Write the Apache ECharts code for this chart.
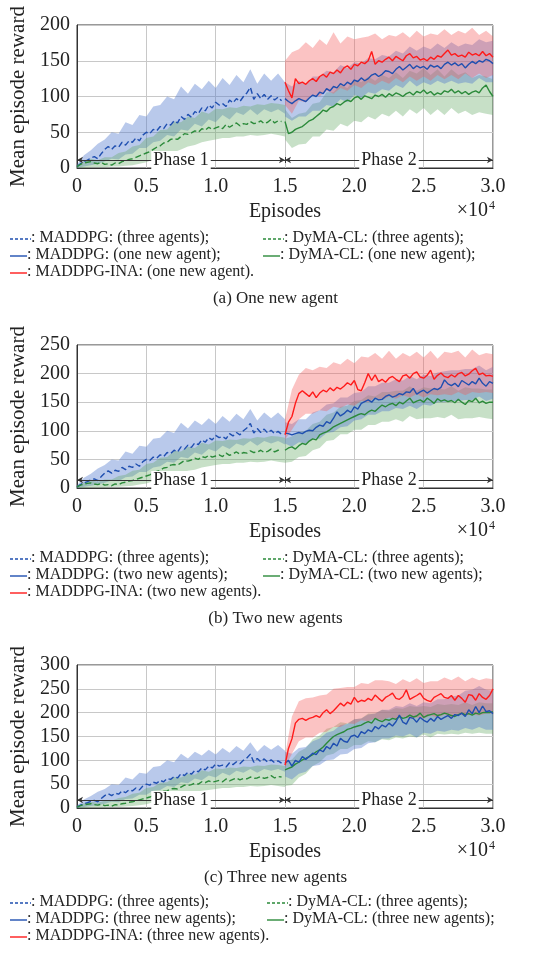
<!DOCTYPE html>
<html><head><meta charset="utf-8">
<script src="https://cdn.jsdelivr.net/npm/echarts@6/dist/echarts.min.js"></script>
<style>html,body{margin:0;padding:0;background:#fff}#c{width:551px;height:953px}</style>
</head><body><div id="c"></div>
<script>
const FONT = '"Liberation Serif","Times New Roman",serif';

// ---------- data (episodes sampled every 250 for lines, every 500 for bands) ----------
const P1_START = 0, P2_START = 15000, LINE_STEP = 250, BAND_STEP = 500;

// Phase 1 (three agents) – shared by all three panels
const p1Blue = [2,6,9,11,14,16,13,20,26,30,26,31,29,36,32,38,36,42,38,46,50,48,54,52,58,55,62,60,66,63,72,68,75,71,79,76,84,80,88,84,92,88,90,86,95,91,97,93,100,105,113,96,104,97,103,96,101,95,99,94];
const p1Green = [2,5,7,8,9,7,6,8,5,6,4,7,6,9,10,12,13,15,17,19,21,23,26,29,31,35,36,40,41,40,44,48,47,49,52,50,55,53,57,54,56,58,55,61,57,60,63,59,62,61,65,62,63,66,62,64,68,63,66,65];
const p1BlueHi = [5,18,25,34,40,50,48,64,60,74,72,86,88,100,96,114,104,118,110,122,112,126,116,130,120,138,118,132,122,132,120];
const p1BlueLo = [0,2,4,6,9,13,12,19,20,28,28,36,38,46,44,54,52,62,58,68,64,74,68,78,74,82,74,82,78,82,76];
const p1GreenHi = [4,10,13,11,15,15,21,23,30,32,42,44,53,54,65,64,72,70,79,76,83,82,85,84,87,86,89,88,91,90,88];
const p1GreenLo = [0,0,1,1,1,2,2,3,4,6,8,12,14,18,22,26,30,32,36,38,40,42,42,44,44,46,45,46,48,46,44];

// (a) one new agent – phase 2
const aRed = [120,108,98,125,118,120,117,122,125,121,128,131,127,134,132,137,133,140,143,138,145,143,148,146,150,163,145,150,148,152,155,150,156,153,150,157,160,154,156,151,153,150,155,152,157,155,160,165,158,160,156,158,155,162,158,160,157,163,157,160,155];
const aBlue = [97,93,90,94,97,95,93,98,102,100,106,104,111,108,114,112,118,115,120,117,123,121,126,122,125,130,132,128,131,136,135,132,138,142,137,141,145,139,143,140,142,138,144,141,143,139,145,148,144,147,143,146,140,145,149,146,150,148,152,150,146];
const aGreen = [65,48,50,54,56,58,62,66,68,72,76,81,79,84,86,90,88,92,95,93,98,100,96,101,99,97,102,100,103,99,104,101,105,103,100,104,106,102,107,105,109,104,107,102,105,103,108,106,110,105,108,104,107,103,106,108,105,112,116,107,100];
const aRedHi = [150,162,166,176,168,180,172,190,174,184,180,182,184,188,180,186,184,190,182,192,184,188,186,194,186,192,188,196,186,192,184];
const aRedLo = [88,76,94,92,102,100,108,104,112,108,116,112,120,116,122,118,126,120,128,122,128,122,130,124,130,124,132,126,132,126,130];
const aBlueHi = [120,114,122,116,128,128,136,134,144,140,148,146,154,152,158,156,164,160,170,164,170,166,174,168,176,170,174,172,180,176,178];
const aBlueLo = [72,66,72,72,80,80,88,86,96,92,102,98,106,104,110,108,116,112,122,114,120,116,122,118,122,118,120,118,126,120,120];
const aGreenHi = [82,70,76,78,90,92,106,106,116,112,124,120,128,122,130,126,134,126,136,132,140,130,138,128,138,130,134,126,130,128,124];
const aGreenLo = [40,28,33,34,44,44,54,52,62,58,66,64,72,68,76,72,80,72,82,76,84,74,82,74,84,76,80,74,78,76,74];

// (b) two new agents – phase 2
const bRed = [93,115,125,148,165,170,165,160,168,158,166,171,168,175,170,176,173,178,184,180,188,172,170,184,200,188,198,186,190,185,192,195,190,186,196,198,192,200,203,194,192,197,206,190,197,201,195,193,198,194,200,202,196,199,205,209,198,201,196,197,195];
const bBlue = [96,95,93,95,97,95,99,101,100,106,110,108,116,113,122,133,126,130,136,132,142,138,148,151,154,150,157,154,155,160,163,159,161,165,163,168,167,174,164,168,171,166,170,174,172,176,189,182,179,183,177,188,184,180,186,182,192,183,178,186,183];
const bGreen = [66,70,72,68,74,78,76,82,86,84,93,96,98,102,107,110,113,116,119,122,125,128,130,128,133,136,134,140,145,142,146,148,144,150,147,152,157,149,152,154,150,157,153,148,156,152,154,151,153,149,155,150,146,153,151,157,149,152,148,150,150];
const bRedHi = [120,172,198,210,206,212,210,220,216,226,218,230,228,236,226,240,226,236,230,238,228,240,226,238,236,240,228,242,232,236,234];
const bRedLo = [85,102,120,130,130,136,134,142,140,146,144,152,150,158,154,160,156,162,158,164,158,164,162,164,162,168,162,168,166,168,166];
const bBlueHi = [115,112,120,120,132,136,146,148,158,158,166,168,178,178,184,184,190,188,196,190,198,196,202,204,206,206,208,208,214,206,212];
const bBlueLo = [78,72,80,78,86,86,96,98,106,108,118,120,128,128,134,134,140,138,144,138,146,144,150,150,152,152,154,154,160,152,156];
const bGreenHi = [86,90,98,100,112,116,128,132,142,144,152,154,162,160,168,168,170,170,178,170,176,174,174,172,178,170,176,174,174,172,172];
const bGreenLo = [44,46,54,56,66,70,82,84,94,94,102,102,110,110,116,116,120,116,126,120,122,122,124,122,128,120,122,122,124,122,120];

// (c) three new agents – phase 2
const cRed = [90,125,145,178,186,188,184,188,190,194,190,200,206,198,204,212,220,214,222,218,232,222,226,224,230,226,237,230,224,232,236,241,230,228,234,248,228,232,236,241,230,226,223,232,236,240,232,230,236,226,236,230,222,238,236,226,240,232,228,236,250];
const cBlue = [94,100,88,100,96,108,102,108,115,112,122,118,129,124,136,130,146,140,138,150,153,148,160,156,164,160,171,166,174,170,178,172,181,195,180,176,190,188,180,190,184,180,188,182,192,186,190,194,188,196,194,199,192,206,198,213,200,214,202,204,198];
const cGreen = [80,83,86,92,96,101,104,108,112,118,122,128,136,143,150,154,157,160,165,167,170,172,174,178,181,178,188,184,181,186,184,188,186,192,188,190,195,191,193,199,190,194,196,198,194,196,199,197,194,192,196,199,196,198,195,199,197,200,201,200,202];
const cRedHi = [110,192,224,230,232,236,238,250,252,254,254,262,260,268,268,266,260,270,264,272,262,266,266,274,268,276,266,274,268,272,270];
const cRedLo = [85,114,140,148,148,158,160,170,170,178,176,184,182,188,184,190,186,192,188,190,188,194,190,196,190,196,194,196,194,198,198];
const cBlueHi = [118,114,126,128,140,146,158,162,174,176,186,188,196,198,206,206,214,212,220,214,222,220,228,228,234,236,246,248,256,248,246];
const cBlueLo = [66,60,72,76,88,90,100,102,112,114,124,126,136,138,146,146,152,150,156,148,158,156,162,160,164,162,168,164,170,164,164];
const cGreenHi = [96,102,118,126,144,152,166,170,180,178,186,188,198,198,206,204,210,208,214,212,214,212,218,216,218,216,222,216,222,220,220];
const cGreenLo = [46,48,64,72,88,96,110,114,124,124,132,132,140,138,144,142,148,146,150,148,154,148,156,154,156,154,158,156,158,156,156];

// axes
const yMaxes = [200, 250, 300];
const yInterval = 50;
const xTickValues = [0, 5000, 10000, 15000, 20000, 25000, 30000];
const xTickLabels = ['0', '0.5', '1.0', '1.5', '2.0', '2.5', '3.0'];
const phaseNames = ['Phase 1', 'Phase 2'];

// legend / captions
const captions = ['(a) One new agent', '(b) Two new agents', '(c) Three new agents'];
const legendA = ['MADDPG: (three agents);', 'DyMA-CL: (three agents);', 'MADDPG: (one new agent);', 'DyMA-CL: (one new agent);', 'MADDPG-INA: (one new agent).'];
const legendB = ['MADDPG: (three agents);', 'DyMA-CL: (three agents);', 'MADDPG: (two new agents);', 'DyMA-CL: (two new agents);', 'MADDPG-INA: (two new agents).'];
const legendC = ['MADDPG: (three agents);', 'DyMA-CL: (three agents);', 'MADDPG: (three new agents);', 'DyMA-CL: (three new agents);', 'MADDPG-INA: (three new agents).'];

const panels = [
  {red:aRed, blue:aBlue, green:aGreen, redHi:aRedHi, redLo:aRedLo, blueHi:aBlueHi, blueLo:aBlueLo, greenHi:aGreenHi, greenLo:aGreenLo, legend:legendA},
  {red:bRed, blue:bBlue, green:bGreen, redHi:bRedHi, redLo:bRedLo, blueHi:bBlueHi, blueLo:bBlueLo, greenHi:bGreenHi, greenLo:bGreenLo, legend:legendB},
  {red:cRed, blue:cBlue, green:cGreen, redHi:cRedHi, redLo:cRedLo, blueHi:cBlueHi, blueLo:cBlueLo, greenHi:cGreenHi, greenLo:cGreenLo, legend:legendC}
];

// ---------- styles ----------
const C_BLUE = '#1f4fb0', C_GREEN = '#2b8a3a', C_RED = '#ff1a1a';
const B_BLUE = 'rgba(80,120,205,0.40)', B_GREEN = 'rgba(100,170,100,0.36)', B_RED = 'rgba(245,90,90,0.36)';
const GRID_TOPS = [25, 345, 665], GRID_LEFT = 77, GRID_W = 416, GRID_H = 143;

function xy(start, step, vals) { return vals.map((v, i) => [start + i * step, v]); }

// shaded band (lower..upper) drawn as one polygon through the axis scales
function bandSeries(g, lo, hi, start, color) {
  const pts = hi.map((v, i) => [start + i * BAND_STEP, lo[i], v]);
  return {type:'custom', xAxisIndex:g, yAxisIndex:g, silent:true, z:1, clip:true,
    data: pts, encode:{x:0, y:[1, 2]},
    renderItem: (params, api) => {
      if (params.dataIndex !== 0) return null;
      const poly = [];
      for (let i = 0; i < pts.length; i++) poly.push(api.coord([pts[i][0], pts[i][2]]));
      for (let i = pts.length - 1; i >= 0; i--) poly.push(api.coord([pts[i][0], pts[i][1]]));
      return {type:'polygon', shape:{points:poly}, style:{fill:color}};
    }};
}
function lineSeries(g, vals, start, color, dashed) {
  return {type:'line', xAxisIndex:g, yAxisIndex:g, symbol:'none', silent:true, z:3,
    lineStyle:{color, width:1.4, type: dashed ? [6, 3] : 'solid'},
    data: xy(start, LINE_STEP, vals)};
}

const grids = [], xAxes = [], yAxes = [], series = [], graphics = [];
panels.forEach((p, g) => {
  const yMax = yMaxes[g];
  grids.push({left:GRID_LEFT, top:GRID_TOPS[g], width:GRID_W, height:GRID_H, show:true, borderColor:'#333', borderWidth:1, backgroundColor:'transparent'});
  xAxes.push({gridIndex:g, type:'value', min:0, max:30000, interval:5000,
    name:'Episodes', nameLocation:'middle', nameGap:34,
    nameTextStyle:{fontFamily:FONT, fontSize:20, color:'#222'},
    axisLine:{lineStyle:{color:'#333'}}, axisTick:{show:false},
    axisLabel:{fontFamily:FONT, fontSize:20, color:'#222', margin:9,
      formatter: v => { const k = xTickValues.indexOf(v); return k >= 0 ? xTickLabels[k] : ''; }},
    splitLine:{show:true, lineStyle:{color:'#c8c8c8', width:1}}});
  yAxes.push({gridIndex:g, type:'value', min:0, max:yMax, interval:yInterval,
    name:'Mean episode reward', nameLocation:'middle', nameGap:47,
    nameTextStyle:{fontFamily:FONT, fontSize:21, color:'#222'},
    axisLine:{lineStyle:{color:'#333'}}, axisTick:{show:false},
    axisLabel:{fontFamily:FONT, fontSize:20, color:'#222', margin:7},
    splitLine:{show:true, lineStyle:{color:'#c8c8c8', width:1}}});

  // bands
  series.push(bandSeries(g, p1BlueLo, p1BlueHi, P1_START, B_BLUE));
  series.push(bandSeries(g, p1GreenLo, p1GreenHi, P1_START, B_GREEN));
  series.push(bandSeries(g, p.greenLo, p.greenHi, P2_START, B_GREEN));
  series.push(bandSeries(g, p.blueLo, p.blueHi, P2_START, B_BLUE));
  series.push(bandSeries(g, p.redLo, p.redHi, P2_START, B_RED));
  // lines
  series.push(lineSeries(g, p1Blue, P1_START, C_BLUE, true));
  series.push(lineSeries(g, p1Green, P1_START, C_GREEN, true));
  series.push(lineSeries(g, p.green, P2_START, C_GREEN, false));
  series.push(lineSeries(g, p.blue, P2_START, C_BLUE, false));
  const red = lineSeries(g, p.red, P2_START, C_RED, false);
  const py = yMax * 8 / GRID_H, dy = yMax * 3 / GRID_H;
  red.markLine = {silent:true, animation:false, symbol:['arrow','arrow'], symbolSize:[5,6], z:4,
    lineStyle:{color:'#333', width:1, type:'solid'}, label:{show:false},
    data:[
      [{coord:[0, py]}, {coord:[15000, py]}],
      [{coord:[15000, py]}, {coord:[30000, py]}],
      [{coord:[15000, py - dy], symbol:'none'}, {coord:[15000, py + dy], symbol:'none'}]
    ]};
  red.markPoint = {silent:true, animation:false, symbol:'rect', symbolSize:1, z:6,
    itemStyle:{color:'rgba(0,0,0,0)'},
    label:{show:true, position:'inside', formatter:'{b}', fontFamily:FONT, fontSize:18, color:'#222', backgroundColor:'#fff', padding:[0,2]},
    data:[{name:phaseNames[0], coord:[7500, py]}, {name:phaseNames[1], coord:[22500, py]}]};
  series.push(red);

  // x10^4
  const base = GRID_TOPS[g] + GRID_H;
  graphics.push({type:'text', right:551-488, top:base + 33, style:{text:'×10', fontFamily:FONT, fontSize:20, fill:'#222'}});
  graphics.push({type:'text', left:489, top:base + 32, style:{text:'4', fontFamily:FONT, fontSize:12, fill:'#222'}});

  // caption + legend rows
  let capY, rows;
  if (g < 2) { rows = [base + 70, base + 87, base + 104]; capY = base + 131; }
  else { capY = base + 70; rows = [base + 94, base + 111, base + 128]; }
  graphics.push({type:'text', left:'center', top:capY - 9, style:{text:captions[g], fontFamily:FONT, fontSize:17, fill:'#222'}});
  const col2 = g === 2 ? 267 : 263;
  const items = [
    {x:10, y:rows[0], c:C_BLUE, dash:true, t:p.legend[0]},
    {x:col2, y:rows[0], c:C_GREEN, dash:true, t:p.legend[1]},
    {x:10, y:rows[1], c:C_BLUE, dash:false, t:p.legend[2]},
    {x:col2, y:rows[1], c:C_GREEN, dash:false, t:p.legend[3]},
    {x:10, y:rows[2], c:C_RED, dash:false, t:p.legend[4]}
  ];
  items.forEach(it => {
    const L = it.dash ? 21 : 17;
    graphics.push({type:'line', shape:{x1:it.x, y1:it.y + 1, x2:it.x + L, y2:it.y + 1},
      style:{stroke:it.c, lineWidth:1.4, lineDash: it.dash ? [3, 2] : null}});
    graphics.push({type:'text', x:it.x + L, y:it.y, style:{text:': ' + it.t, fontFamily:FONT, fontSize:16, fill:'#222', verticalAlign:'middle'}});
  });
});

const chart = echarts.init(document.getElementById('c'), null, {renderer:'canvas'});
chart.setOption({
  animation:false, backgroundColor:'#fff',
  grid:grids, xAxis:xAxes, yAxis:yAxes, series, graphic:graphics
});
</script></body></html>
